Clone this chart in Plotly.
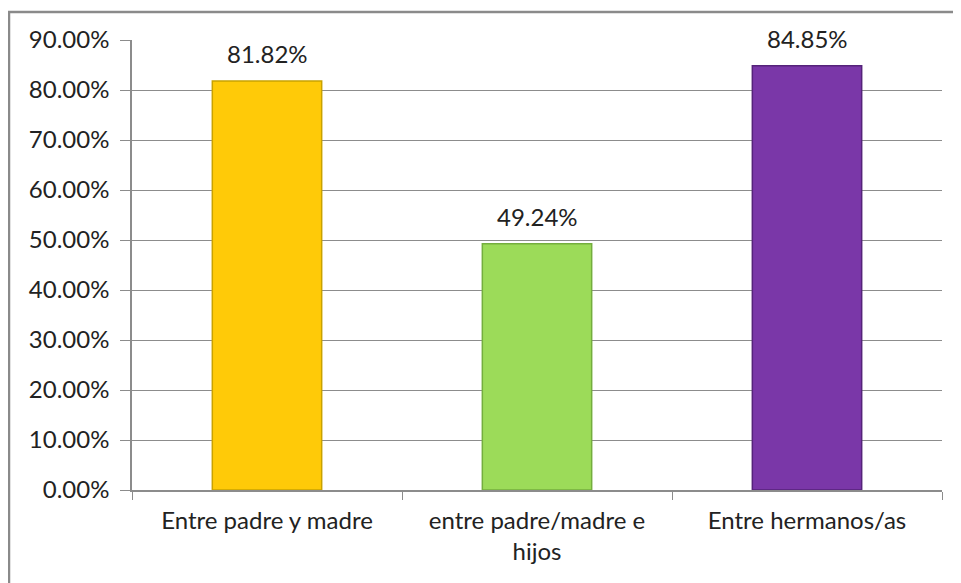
import plotly.graph_objects as go

categories = ["Entre padre y madre", "entre padre/madre e<br>hijos", "Entre hermanos/as"]
values = [0.8182, 0.4924, 0.8485]
labels = ["81.82%", "49.24%", "84.85%"]
colors = ["#FFCA08", "#9CDB59", "#7A37A8"]
edge_colors = ["#C9A200", "#74AE3E", "#55237A"]
tick_vals = [i / 10 for i in range(10)]
tick_text = ["%.2f%%" % (v * 100) for v in tick_vals]

FONT = "Lato"
FS = 24

# page has an 8px body margin, so the figure is sized/positioned to compensate
W, H = 953, 575
L, R, T, B = 124, 19, 32, 93
PW, PH = W - L - R, H - T - B

fig = go.Figure()
fig.add_trace(go.Bar(
    x=categories, y=values,
    marker=dict(color=colors, line=dict(color=edge_colors, width=1.5)),
    width=0.405,
    hoverinfo="skip",
))

for c, v, t in zip(categories, values, labels):
    fig.add_annotation(x=c, y=v, text=t, showarrow=False, yanchor="bottom",
                       yshift=11, font=dict(family=FONT, size=FS, color="#222222"))

fig.update_layout(
    width=W, height=H,
    margin=dict(l=L, r=R, t=T, b=B, autoexpand=False),
    paper_bgcolor="white", plot_bgcolor="white",
    showlegend=False,
    font=dict(family=FONT, size=FS, color="#222222"),
    xaxis=dict(
        type="category", tickson="boundaries", ticks="outside", ticklen=8,
        tickcolor="#8C8C8C", showline=True, linecolor="#8C8C8C", linewidth=1.5,
        showgrid=False, ticklabelstandoff=8, automargin=False,
        tickfont=dict(family=FONT, size=FS, color="#222222"),
    ),
    yaxis=dict(
        range=[0, 0.9], tickvals=tick_vals + [0.9],
        ticktext=tick_text + ["90.00%"],
        ticks="outside", ticklen=10, tickcolor="#8C8C8C",
        showline=True, linecolor="#8C8C8C", linewidth=1.5,
        showgrid=True, gridcolor="#8C8C8C", gridwidth=1.2,
        zeroline=False, ticklabelstandoff=6, automargin=False,
        tickfont=dict(family=FONT, size=FS, color="#222222"),
    ),
    shapes=[
        dict(type="line", xref="paper", yref="paper",
             x0=(0 - L) / PW, x1=(W - L) / PW + 0.01,
             y0=(H - B - 4) / PH, y1=(H - B - 4) / PH,
             line=dict(color="#8A8A8A", width=2.5)),
        dict(type="line", xref="paper", yref="paper",
             x0=(1 - L) / PW, x1=(1 - L) / PW,
             y0=(H - B - 4) / PH, y1=-0.3,
             line=dict(color="#8A8A8A", width=2.5)),
    ],
)

fig.write_html("out.html")
